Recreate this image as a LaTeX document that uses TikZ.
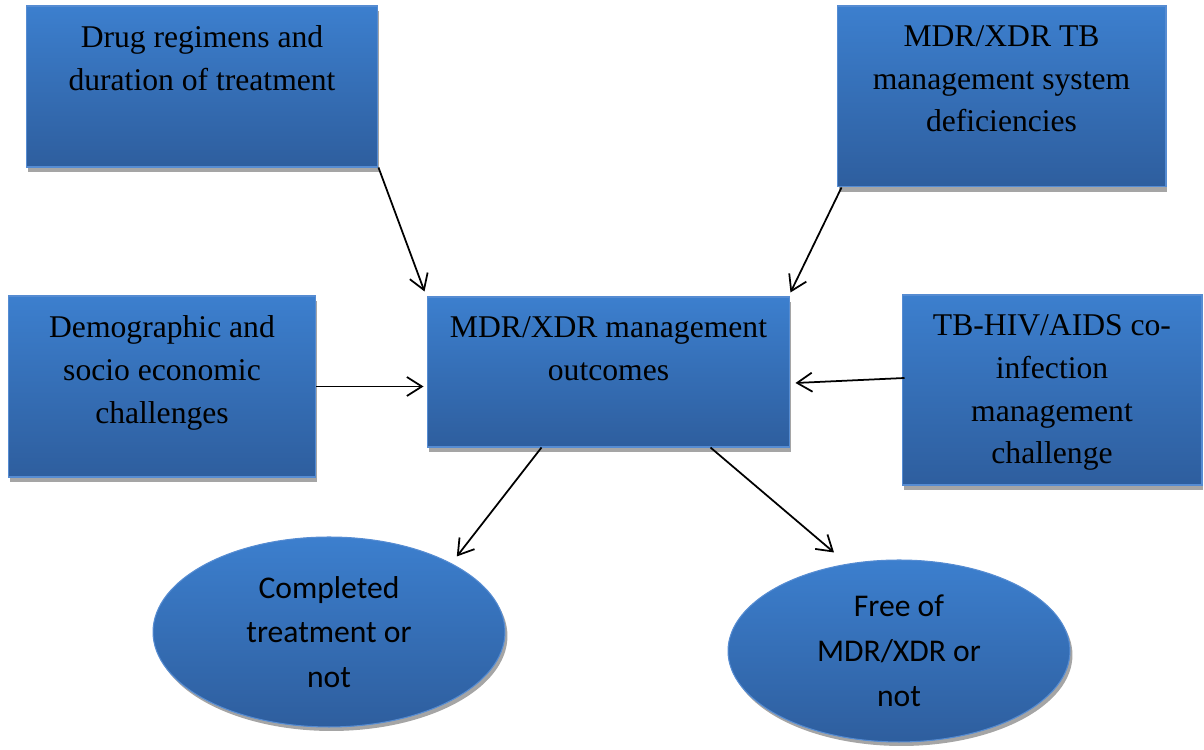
\documentclass[tikz,border=0pt]{standalone}
\usepackage{fontspec}
\setmainfont{Liberation Serif}
\newfontfamily\ovalfont{Carlito}
\usepackage{xcolor}
\usepackage{tikz}
\usetikzlibrary{
arrows.meta,
positioning,
shapes.geometric,
shadows,
calc
}

\definecolor{boxtop}{RGB}{60,127,206}
\definecolor{boxbottom}{RGB}{46,94,158}
\definecolor{boxedge}{RGB}{86,140,210}
\definecolor{boxshadow}{RGB}{165,165,165}

\begin{document}
\begin{tikzpicture}[
x=0.02cm,y=0.02cm,
box/.style={
draw=boxedge,
line width=0.6pt,
top color=boxtop,
bottom color=boxbottom,
drop shadow={shadow xshift=0.03cm,shadow yshift=-0.1cm,fill=boxshadow,opacity=1},
inner sep=0pt
},
boxtext/.style={
inner sep=0pt,
align=center,
font=\fontsize{18}{24.4}\selectfont
},
oval/.style={
ellipse,
draw=boxedge,
line width=0.6pt,
top color=boxtop,
bottom color=boxbottom,
drop shadow={shadow xshift=0.05cm,shadow yshift=-0.08cm,fill=boxshadow,opacity=1},
inner sep=0pt,
align=center,
font=\ovalfont\fontsize{18}{25.5}\selectfont
},
arrow/.style={-{Straight Barb[length=0.3cm,width=0.38cm]},line width=1pt}
]

\useasboundingbox (0,0) rectangle (1204,750);

% boxes
\node[box,minimum width=7.04cm,minimum height=3.22cm] (drug) at (202,663.5) {};
\node[box,minimum width=6.58cm,minimum height=3.62cm] (mdrtb) at (1001.5,653.5) {};
\node[box,minimum width=6.16cm,minimum height=3.62cm] (demog) at (162,363.5) {};
\node[box,minimum width=7.26cm,minimum height=3.0cm] (outcome) at (608.5,378) {};
\node[box,minimum width=6.0cm,minimum height=3.8cm] (tbhiv) at (1052,360) {};

\node[boxtext,below=0.39cm of drug.north] (drugtext) {Drug regimens and\\duration of treatment};
\node[boxtext,below=0.39cm of mdrtb.north] (mdrtbtext) {MDR/XDR TB\\management system\\deficiencies};
\node[boxtext,below=0.39cm of demog.north] (demogtext) {Demographic and\\socio economic\\challenges};
\node[boxtext,below=0.39cm of outcome.north] (outcometext) {MDR/XDR management\\outcomes};
\node[boxtext,below=0.39cm of tbhiv.north] (tbhivtext) {TB-HIV/AIDS co-\\infection\\management\\challenge};

% outcomes
\node[oval,minimum width=7.04cm,minimum height=3.8cm] (completed) at (329,118) {Completed\\treatment or\\not};
\node[oval,minimum width=6.84cm,minimum height=3.64cm] (free) at (899,99) {Free of\\MDR/XDR or\\not};

% connectors
\draw[arrow] (drug.south east) -- ($(outcome.north west)+(-2,5)$);
\draw[arrow] ($(mdrtb.south west)+(5,0)$) -- ($(outcome.north east)+(0,4)$);
\draw[arrow] (demog.east) -- ($(demog.east -| outcome.west)+(-3,0)$);
\draw[arrow] ($(tbhiv.west)+(3,12)$) -- ($(outcome.east)+(5,-11)$);
\draw[arrow] ($(outcome.south west)+(115,0)$) -- ($(completed.north east)+(3,8)$);
\draw[arrow] ($(outcome.south east)+(-80,0)$) -- ($(free.north)+(-65,7)$);

\end{tikzpicture}
\end{document}
